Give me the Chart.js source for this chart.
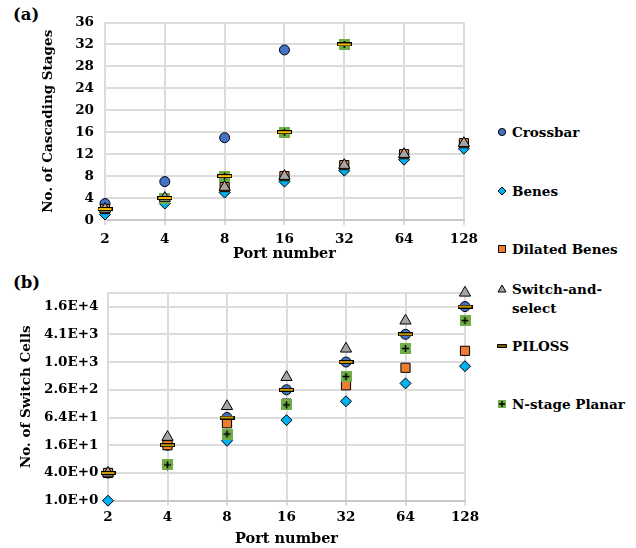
<!DOCTYPE html>
<html lang="en">
<head>
<meta charset="UTF-8">
<title>Cascading stages and switch cells</title>
<script src="https://cdn.jsdelivr.net/npm/chart.js"></script>
<style>
  body { margin: 0; width: 636px; height: 548px; background: #fff; position: relative; overflow: hidden;
         font-family: 'DejaVu Serif', serif; font-weight: bold; color: #000; }
  #chartA { position: absolute; left: 0; top: 0; }
  #chartB { position: absolute; left: 0; top: 270px; }
  .panel { position: absolute; left: 13px; font-size: 16.5px; line-height: 20px; }
  .key { position: absolute; left: 496px; font-size: 13.5px; line-height: 19px; }
  .key canvas { position: absolute; left: 0; top: 3px; }
  .key span { position: absolute; left: 16px; top: 0; white-space: nowrap; }
</style>
</head>
<body>
<div class="panel" style="top:5px">(a)</div>
<div class="panel" style="top:273px">(b)</div>
<canvas id="chartA" width="484" height="270"></canvas>
<canvas id="chartB" width="484" height="278"></canvas>
<div id="keys"></div>

<script>
// port counts (x categories)
const ports = ['2', '4', '8', '16', '32', '64', '128'];
const seriesNames = ['Crossbar', 'Benes', 'Dilated Benes', 'Switch-and-select', 'PILOSS', 'N-stage Planar'];

// (a) number of cascading stages
const stagesCrossbar = [3, 7, 15, 31, null, null, null];
const stagesBenes = [1, 3, 5, 7, 9, 11, 13];
const stagesDilated = [2, 4, 6, 8, 10, 12, 14];
const stagesSwitchSelect = [2, 4, 6, 8, 10, 12, 14];
const stagesPiloss = [2, 4, 8, 16, 32, null, null];
const stagesPlanar = [null, 4, 8, 16, 32, null, null];

// (b) number of switch cells
const cellsCrossbar = [4, 16, 64, 256, 1024, 4096, 16384];
const cellsBenes = [1, 6, 20, 56, 144, 352, 832];
const cellsDilated = [4, 16, 48, 128, 320, 768, 1792];
const cellsSwitchSelect = [4, 24, 112, 480, 1984, 8064, 32512];
const cellsPiloss = [4, 16, 64, 256, 1024, 4096, 16384];
const cellsPlanar = [null, 6, 28, 120, 496, 2016, 8128];

// axis ticks
const stageMax = 36;
const stageStep = 4;
const cellTicks = [1, 4, 16, 64, 256, 1024, 4096, 16384];
const cellTop = 32768;

Chart.defaults.font.family = "'DejaVu Serif', serif";
Chart.defaults.font.size = 13.5;
Chart.defaults.font.weight = 'bold';
Chart.defaults.color = '#000';

function makeDash(fill, w, h) {
  const c = document.createElement('canvas');
  c.width = w; c.height = h;
  const g = c.getContext('2d');
  g.fillStyle = fill;
  g.fillRect(0, 0, w, h);
  g.strokeStyle = '#000';
  g.lineWidth = 1;
  g.strokeRect(0.5, 0.5, w - 1, h - 1);
  return c;
}

function makePlus(size) {
  const c = document.createElement('canvas');
  c.width = size; c.height = size;
  const g = c.getContext('2d');
  g.fillStyle = '#70AD47';
  g.fillRect(0, 0, size, size);
  g.strokeStyle = '#000';
  g.lineWidth = 1.6;
  const m = size / 2;
  g.beginPath();
  g.moveTo(m, 2); g.lineTo(m, size - 2);
  g.moveTo(2, m); g.lineTo(size - 2, m);
  g.stroke();
  return c;
}

// marker look per series, lower order is drawn on top
const looks = [
  { style: 'circle', r: 5, fill: '#4472C4', order: 5 },
  { style: 'rectRot', r: 5.5, fill: '#00B0F0', order: 4 },
  { style: 'rect', r: 6.5, fill: '#ED7D31', order: 3 },
  { style: 'triangle', r: 6.5, fill: '#A5A5A5', order: 1 },
  { style: 'dash', r: 6, fill: '#FFC000', order: 0 },
  { style: 'plus', r: 6, fill: '#70AD47', order: 2 }
];

function buildSets(values, dashFill) {
  return values.map((vals, i) => {
    const lk = looks[i];
    let ps = lk.style;
    if (ps === 'dash') ps = makeDash(dashFill, 15, 4);
    if (ps === 'plus') ps = makePlus(11);
    return {
      label: seriesNames[i],
      data: vals,
      showLine: false,
      order: lk.order,
      clip: false,
      pointStyle: ps,
      pointRadius: lk.r,
      pointBackgroundColor: lk.fill,
      pointBorderColor: '#000',
      pointBorderWidth: 1,
      backgroundColor: lk.fill,
      borderColor: '#000'
    };
  });
}

const gridColor = '#DCDCDC';

function xAxis(height, labelPad, titlePadBottom) {
  return {
    type: 'category',
    offset: false,
    grid: { color: gridColor, lineWidth: 2, tickLength: 5, drawTicks: true },
    border: { color: '#C8C8C8', width: 2 },
    ticks: { padding: labelPad, maxRotation: 0, autoSkip: false },
    title: { display: true, text: 'Port number', font: { size: 14.5 }, padding: { top: 0, bottom: titlePadBottom } },
    afterFit: s => { s.height = height; }
  };
}

new Chart(document.getElementById('chartA'), {
  type: 'line',
  data: {
    labels: ports,
    datasets: buildSets([stagesCrossbar, stagesBenes, stagesDilated, stagesSwitchSelect, stagesPiloss, stagesPlanar], '#FFC000')
  },
  options: {
    responsive: false,
    animation: false,
    events: [],
    layout: { padding: { top: 22.5, right: 18, bottom: 0, left: 0 } },
    plugins: { legend: { display: false }, tooltip: { enabled: false } },
    scales: {
      x: xAxis(50, 6, 7),
      y: {
        min: 0, max: stageMax,
        ticks: { stepSize: stageStep, padding: 11 },
        grid: { color: gridColor, lineWidth: 2, drawTicks: false },
        border: { color: gridColor, width: 2 },
        title: { display: true, text: 'No. of Cascading Stages', padding: { top: 40, bottom: 0 } },
        afterFit: s => { s.width = 105; }
      }
    }
  }
});

new Chart(document.getElementById('chartB'), {
  type: 'line',
  data: {
    labels: ports,
    datasets: buildSets([cellsCrossbar, cellsBenes, cellsDilated, cellsSwitchSelect, cellsPiloss, cellsPlanar], '#C99A00')
  },
  options: {
    responsive: false,
    animation: false,
    events: [],
    layout: { padding: { top: 22.7, right: 19, bottom: 0, left: 0 } },
    plugins: { legend: { display: false }, tooltip: { enabled: false } },
    scales: {
      x: xAxis(47.3, 4, 0),
      y: {
        type: 'logarithmic',
        min: cellTicks[0], max: cellTop,
        afterBuildTicks: s => { s.ticks = cellTicks.concat([cellTop]).map(v => ({ value: v })); },
        ticks: {
          padding: 9.5,
          callback: v => cellTicks.includes(v) ? v.toExponential(1).toUpperCase() : ''
        },
        grid: { color: gridColor, lineWidth: 2, drawTicks: false },
        border: { color: gridColor, width: 2 },
        title: { display: true, text: 'No. of Switch Cells', padding: { top: 18, bottom: 0 } },
        afterFit: s => { s.width = 108; }
      }
    }
  }
});

// legend on the right, shared by both panels
function drawKey(g, i) {
  const lk = looks[i];
  const cx = 6, cy = 6;
  g.fillStyle = lk.fill;
  g.strokeStyle = '#000';
  g.lineWidth = 1;
  g.beginPath();
  if (lk.style === 'circle') {
    g.arc(cx, cy, 3.6, 0, Math.PI * 2);
  } else if (lk.style === 'rectRot') {
    g.moveTo(cx, cy - 4); g.lineTo(cx + 4, cy); g.lineTo(cx, cy + 4); g.lineTo(cx - 4, cy); g.closePath();
  } else if (lk.style === 'rect') {
    g.rect(cx - 3.5, cy - 3.5, 7, 7);
  } else if (lk.style === 'triangle') {
    g.moveTo(cx, cy - 4); g.lineTo(cx + 4, cy + 3); g.lineTo(cx - 4, cy + 3); g.closePath();
  } else if (lk.style === 'dash') {
    g.fillStyle = '#7F6000';
    g.rect(cx - 4.5, cy - 1.5, 9, 3);
  } else {
    g.fillRect(cx - 4, cy - 4, 8, 8);
    g.strokeStyle = '#000';
    g.lineWidth = 1.4;
    g.moveTo(cx, cy - 3); g.lineTo(cx, cy + 3);
    g.moveTo(cx - 3, cy); g.lineTo(cx + 3, cy);
    g.stroke();
    return;
  }
  g.fill();
  g.stroke();
}

const keyTops = [123, 182, 240, 280, 337, 395];
const keyBox = document.getElementById('keys');
seriesNames.forEach((name, i) => {
  const d = document.createElement('div');
  d.className = 'key';
  d.style.top = keyTops[i] + 'px';
  const c = document.createElement('canvas');
  c.width = 12; c.height = 12;
  drawKey(c.getContext('2d'), i);
  const s = document.createElement('span');
  s.innerHTML = name === 'Switch-and-select' ? 'Switch-and-<br>select' : name;
  d.appendChild(c);
  d.appendChild(s);
  keyBox.appendChild(d);
});
</script>
</body>
</html>
